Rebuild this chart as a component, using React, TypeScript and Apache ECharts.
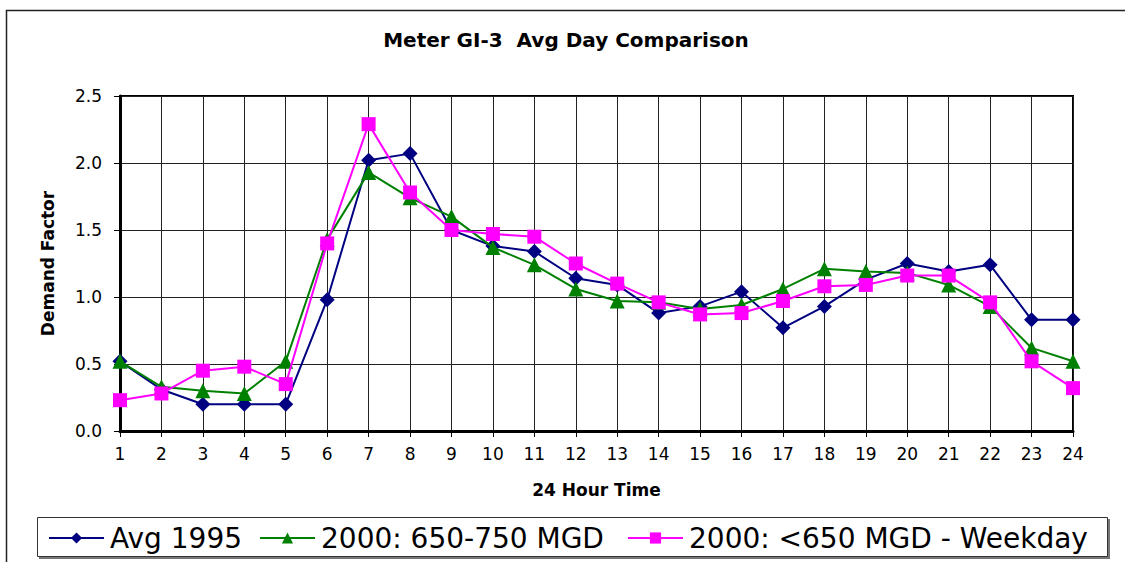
import React, { useEffect, useRef } from "react";
import * as echarts from "echarts";

const hours = ["1","2","3","4","5","6","7","8","9","10","11","12","13","14","15","16","17","18","19","20","21","22","23","24"];
const avg1995 = [0.52,0.31,0.20,0.20,0.20,0.98,2.02,2.07,1.50,1.38,1.34,1.14,1.09,0.88,0.93,1.04,0.77,0.93,1.13,1.25,1.19,1.24,0.83,0.83];
const mgd650_750 = [0.52,0.33,0.30,0.28,0.52,1.43,1.93,1.74,1.60,1.37,1.24,1.06,0.97,0.96,0.91,0.94,1.06,1.21,1.19,1.18,1.09,0.93,0.62,0.52];
const mgdUnder650 = [0.23,0.28,0.45,0.48,0.35,1.40,2.29,1.78,1.50,1.47,1.45,1.25,1.10,0.96,0.87,0.88,0.97,1.08,1.09,1.16,1.16,0.96,0.52,0.32];
const seriesNames = ["Avg 1995", "2000: 650-750 MGD", "2000: <650 MGD - Weekday"];
const yTicks = [0, 0.5, 1.0, 1.5, 2.0, 2.5];

const FONT = "DejaVu Sans";

export default function App() {
  const ref = useRef<HTMLDivElement>(null);
  useEffect(() => {
    if (!ref.current) return;
    const chart = echarts.init(ref.current, null, { renderer: "svg" });
    const legendLefts = [48, 259, 627];
    chart.setOption({
      animation: false,
      backgroundColor: "#fff",
      title: {
        text: "Meter GI-3  Avg Day Comparison",
        left: 566,
        textAlign: "center",
        top: 30,
        padding: 0,
        textStyle: { fontFamily: FONT, fontSize: 20, fontWeight: "bold", color: "#000" },
      },
      graphic: [
        {
          type: "rect",
          shape: { x: 6.5, y: 10.5, width: 1300, height: 800 },
          style: { fill: "none", stroke: "#222", lineWidth: 1.5 },
          silent: true,
        },
        {
          type: "rect",
          shape: { x: 39, y: 519, width: 1071, height: 40 },
          style: { fill: "#777", stroke: "none" },
          silent: true,
        },
        {
          type: "rect",
          shape: { x: 37.5, y: 517.5, width: 1070, height: 39 },
          style: { fill: "#fff", stroke: "#333", lineWidth: 1 },
          silent: true,
        },
      ],
      legend: seriesNames.map((n, i) => ({
        data: [n],
        left: legendLefts[i],
        top: 524,
        padding: 0,
        itemWidth: 55,
        itemHeight: 14,
        itemGap: 0,
        textStyle: { fontFamily: FONT, fontSize: 28, color: "#000", padding: [0, 0, 0, 1] },
      })),
      grid: {
        left: 120,
        top: 96,
        right: 52,
        bottom: 131,
        show: true,
        borderColor: "#000",
        borderWidth: 2,
        backgroundColor: "#fff",
      },
      xAxis: {
        type: "category",
        data: hours,
        boundaryGap: false,
        name: "24 Hour Time",
        nameLocation: "middle",
        nameGap: 50,
        nameTextStyle: { fontFamily: FONT, fontSize: 17, fontWeight: "bold", color: "#000" },
        axisLine: { lineStyle: { color: "#000", width: 3 } },
        axisTick: { show: true, length: 6, lineStyle: { color: "#000" }, alignWithLabel: true },
        axisLabel: { fontFamily: FONT, fontSize: 17, color: "#000", margin: 14, interval: 0 },
        splitLine: { show: true, interval: 0, lineStyle: { color: "#222", width: 1 } },
      },
      yAxis: {
        type: "value",
        min: 0,
        max: 2.5,
        interval: 0.5,
        name: "Demand Factor",
        nameLocation: "middle",
        nameGap: 64,
        nameTextStyle: { fontFamily: FONT, fontSize: 17, fontWeight: "bold", color: "#000" },
        axisLine: { show: true, lineStyle: { color: "#000", width: 3 } },
        axisTick: { show: true, length: 6, lineStyle: { color: "#000" } },
        axisLabel: {
          fontFamily: FONT,
          fontSize: 17,
          color: "#000",
          margin: 18,
          formatter: (v: number) => (yTicks.includes(v) ? v.toFixed(1) : ""),
        },
        splitLine: { show: true, lineStyle: { color: "#222", width: 1 } },
      },
      series: [
        {
          name: seriesNames[0],
          type: "line",
          data: avg1995,
          symbol: "diamond",
          symbolSize: 15,
          color: "#000080",
          lineStyle: { color: "#000080", width: 2 },
          itemStyle: { color: "#000080" },
          z: 2,
        },
        {
          name: seriesNames[1],
          type: "line",
          data: mgd650_750,
          symbol: "triangle",
          symbolSize: 15,
          color: "#008000",
          lineStyle: { color: "#008000", width: 2 },
          itemStyle: { color: "#008000" },
          z: 3,
        },
        {
          name: seriesNames[2],
          type: "line",
          data: mgdUnder650,
          symbol: "rect",
          symbolSize: 14,
          color: "#FF00FF",
          lineStyle: { color: "#FF00FF", width: 2 },
          itemStyle: { color: "#FF00FF" },
          z: 4,
        },
      ],
    });
    return () => chart.dispose();
  }, []);
  return <div ref={ref} style={{ width: 1125, height: 562, position: "absolute", left: 0, top: 0 }} />;
}
